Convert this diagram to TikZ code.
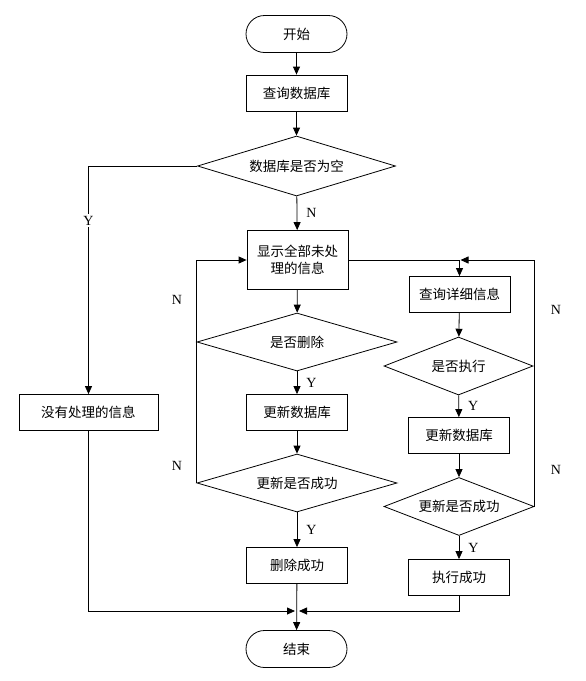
\documentclass[tikz,border=0pt]{standalone}
\usepackage{fontspec}
\setmainfont{Liberation Serif}
\newfontfamily\cjk{Noto Sans CJK SC}
\usetikzlibrary{shapes.geometric,shapes.misc,arrows.meta}
\tikzset{
  base/.style={draw=black, line width=0.8pt, inner sep=0pt, font=\cjk\fontsize{13.5}{17}\selectfont, align=center},
  term/.style={base, rounded rectangle, minimum width=101pt, minimum height=37pt},
  proc/.style={base, rectangle, minimum width=101pt, minimum height=36pt},
  dec/.style={base, diamond, shape aspect=3.4, minimum width=200pt, minimum height=58pt},
  decs/.style={base, diamond, shape aspect=2.6, minimum width=150pt, minimum height=58pt},
  conn/.style={line width=0.8pt, -{Triangle[length=8pt,width=7pt]}},
  lab/.style={font=\fontsize{14}{16}\selectfont, inner sep=1pt},
}
\begin{document}
\begin{tikzpicture}[x=1pt,y=-1pt]
\useasboundingbox (0,0) rectangle (586,681);
\node[term] (start) at (296.5,34) {开始};
\node[proc] (q1) at (296.5,93) {查询数据库};
\node[dec, minimum width=198pt, minimum height=60pt] (d1) at (296.5,166) {数据库是否为空};
\node[proc, minimum height=59pt] (show) at (297.5,260) {显示全部未处\\理的信息};
\node[proc, minimum width=139pt] (nodata) at (88.5,412.5) {没有处理的信息};
\node[dec] (ddel) at (297,342) {是否删除};
\node[proc] (upd1) at (297,412.5) {更新数据库};
\node[dec] (ok1) at (297,483) {更新是否成功};
\node[proc] (delok) at (297,565.5) {删除成功};
\node[proc] (qd) at (459.5,294.5) {查询详细信息};
\node[decs, minimum width=149pt] (dexec) at (458.5,366) {是否执行};
\node[proc] (upd2) at (459,435.5) {更新数据库};
\node[decs] (ok2) at (459,506.5) {更新是否成功};
\node[proc] (exok) at (459,577.5) {执行成功};
\node[term] (end) at (296.5,649) {结束};

\coordinate (m) at (297,611);
\coordinate (j) at (qd.north |- show.east);

\draw[conn] (start) -- (q1);
\draw[conn] (q1) -- (d1);
\draw[conn] (d1) -- node[lab, right=8pt] (nN1) {N} (show);
\draw[conn] (d1.west) -| node[lab, fill=white, pos=0.62, inner sep=2pt] (nY1) {Y} (nodata.north);
\draw[conn] (show) -- (ddel);
\draw[conn] (ddel) -- node[lab, right=8pt] (nY2) {Y} (upd1);
\draw[conn] (upd1) -- (ok1);
\draw[conn] (ok1) -- node[lab, right=8pt] (nY3) {Y} (delok);
\draw[conn] (delok) -- (end);
\draw[conn] (ok1.west) |- (show.west);
\node[lab] (nN2) at (177,300) {N};
\node[lab] (nN3) at (177,466) {N};
\draw[conn] (show.east) -| (qd.north);
\draw[conn] (qd) -- (dexec);
\draw[conn] (dexec) -- node[lab, right=8pt] (nY4) {Y} (upd2);
\draw[conn] (upd2) -- (ok2);
\draw[conn] (ok2) -- node[lab, right=8pt] (nY5) {Y} (exok);
\draw[conn, shorten >=1pt] (ok2.east) |- (j);
\node[lab] (nN4) at (556,310) {N};
\node[lab] (nN5) at (556,470) {N};
\draw[conn, shorten >=2pt] (nodata.south) |- (m);
\draw[conn, shorten >=2pt] (exok.south) |- (m);
\end{tikzpicture}
\end{document}
